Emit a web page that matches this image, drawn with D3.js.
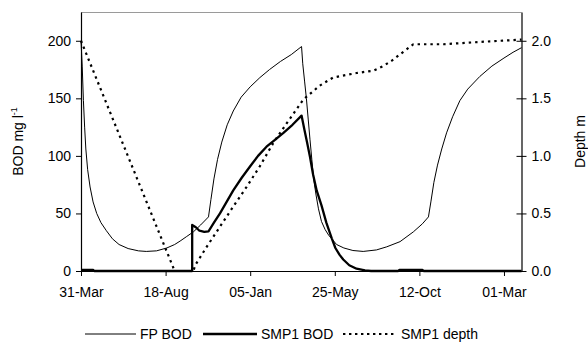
<!DOCTYPE html>
<html>
<head>
<meta charset="utf-8">
<script src="https://cdn.jsdelivr.net/npm/d3@7"></script>
<style>
  html, body { margin: 0; padding: 0; background: #fff; }
  svg { display: block; font-family: "Liberation Sans", Arial, sans-serif; }
</style>
</head>
<body>
<svg id="chart" width="588" height="345"></svg>
<script>
// Days counted from 31-Mar; one tick every 140 days
const tickDays = [0, 140, 280, 420, 560, 700];
const tickLabels = ["31-Mar", "18-Aug", "05-Jan", "25-May", "12-Oct", "01-Mar"];
const bodTicks = [0, 50, 100, 150, 200];
const depthTicks = [0, 0.5, 1.0, 1.5, 2.0];

// FP BOD, mg/l : [day, value]
const fpBod = [
  [0,200],[2,178],[4,148],[6,125],[8,106],[11,88],[15,73],[20,60],[26,50],[33,42],
  [42,35],[52,28],[63,23],[78,19.5],[95,17.5],[108,17],[125,17.5],[142,20],[155,23],
  [164,26],[175,30],[186,34],[198,40],[211,47],[215,62],[220,80],[226,97],[233,112],
  [242,127],[252,139],[265,151],[280,160],[296,168],[312,175],[330,182],[348,188],[365,195],
  [367,180],[370,165],[373,150],[376,132],[379,114],[382,97],[385,80],[389,66],[393,54],
  [398,43],[404,36],[410,31],[415,28],[423,23],[435,20],[450,17.8],[467,17],[489,18.3],
  [506,21],[528,25.5],[550,34],[565,41],[575,47],[579,60],[584,77],[590,92],[597,106],
  [605,120],[615,134],[627,148],[640,158],[660,169],[680,178],[700,185],[715,190],[729,194]
];

// SMP1 BOD, mg/l : [day, value]
const smp1Bod = [
  [0,1],[20,1],[22,0],[184,0],[184,40],[190,38],[196,35],[204,34],[211,34.5],[220,42],
  [230,50],[241,60],[252,70],[266,81],[280,91],[293,100],[307,108],[321,114],[335,120],
  [350,127],[365,135],[370,122],[374,112],[379,99],[384,84],[390,70],[398,57],[406,42],
  [415,28.4],[421,20],[428,14],[434,10],[444,5],[456,2],[470,0.5],[480,0],[525,0],
  [527,1],[565,1],[567,0],[729,0]
];

// SMP1 depth, m : [day, value]
const smp1Depth = [
  [0,2.0],[155,0],[186,0],[189,0.05],[208,0.21],[230,0.385],[252,0.56],[274,0.73],
  [296,0.91],[318,1.11],[340,1.28],[368,1.49],[395,1.61],[417,1.68],[456,1.72],
  [484,1.74],[500,1.78],[515,1.83],[530,1.89],[550,1.97],[600,1.97],[660,1.99],[729,2.01]
];

const svg = d3.select("#chart");
const mLeft = 81, mRight = 521.5, mTop = 12, mBottom = 271;
const FONT = 14;

const x = d3.scaleLinear().domain([0, 729]).range([mLeft, mRight]);
const yL = d3.scaleLinear().domain([0, 225]).range([mBottom, mTop]);
const yR = d3.scaleLinear().domain([0, 2.25]).range([mBottom, mTop]);

// top border of plot area
svg.append("line")
  .attr("x1", mLeft).attr("x2", mRight).attr("y1", mTop + 0.5).attr("y2", mTop + 0.5)
  .attr("stroke", "#9a9a9a").attr("stroke-width", 1);

const lineL = d3.line().x(d => x(d[0])).y(d => yL(d[1]));
const lineR = d3.line().x(d => x(d[0])).y(d => yR(d[1]));

const plot = svg.append("g");
plot.append("path").datum(smp1Depth).attr("d", lineR)
  .attr("fill", "none").attr("stroke", "#000").attr("stroke-width", 2.2)
  .attr("stroke-dasharray", "2.4,4");
plot.append("path").datum(fpBod).attr("d", lineL)
  .attr("fill", "none").attr("stroke", "#000").attr("stroke-width", 1);
plot.append("path").datum(smp1Bod).attr("d", lineL)
  .attr("fill", "none").attr("stroke", "#000").attr("stroke-width", 2.3)
  .attr("stroke-linejoin", "round");

// left axis
const gL = svg.append("g").attr("transform", `translate(${mLeft},0)`)
  .call(d3.axisLeft(yL).tickValues(bodTicks).tickFormat(d3.format("d"))
    .tickSizeInner(5).tickSizeOuter(0).tickPadding(5));
// right axis
const gR = svg.append("g").attr("transform", `translate(${mRight},0)`)
  .call(d3.axisRight(yR).tickValues(depthTicks).tickFormat(d3.format(".1f"))
    .tickSizeInner(5).tickSizeOuter(0).tickPadding(5));
gR.selectAll(".tick line").attr("x1", -5);
// bottom axis
const gB = svg.append("g").attr("transform", `translate(0,${mBottom})`)
  .call(d3.axisBottom(x).tickValues(tickDays).tickFormat((d, i) => tickLabels[i])
    .tickSizeInner(5).tickSizeOuter(0).tickPadding(11));

[gL, gR, gB].forEach(g => {
  g.select(".domain").attr("stroke", "#000").attr("stroke-width", 1.2);
  g.selectAll(".tick line").attr("stroke", "#000");
  g.selectAll("text").attr("fill", "#000").style("font-size", FONT + "px")
    .style("font-family", "'Liberation Sans', Arial, sans-serif");
});
gB.select(".domain").attr("d", `M${mLeft},0.5H${mRight}`);

// axis titles
const tL = svg.append("text")
  .attr("transform", `translate(23,${(mTop + mBottom) / 2}) rotate(-90)`)
  .attr("text-anchor", "middle").style("font-size", FONT + "px");
tL.append("tspan").text("BOD mg l");
tL.append("tspan").attr("dy", -6).style("font-size", "9px").text("-1");

svg.append("text")
  .attr("transform", `translate(585,${(mTop + mBottom) / 2}) rotate(-90)`)
  .attr("text-anchor", "middle").style("font-size", FONT + "px")
  .text("Depth m");

// legend
const legendItems = [
  { name: "FP BOD", x1: 85, x2: 136, w: 1, dash: null },
  { name: "SMP1 BOD", x1: 203, x2: 257, w: 2.3, dash: null },
  { name: "SMP1 depth", x1: 343, x2: 397, w: 2.2, dash: "2.4,3.6" }
];
const ly = 334;
const lg = svg.append("g");
legendItems.forEach(it => {
  lg.append("line").attr("x1", it.x1).attr("x2", it.x2).attr("y1", ly).attr("y2", ly)
    .attr("stroke", "#000").attr("stroke-width", it.w)
    .attr("stroke-dasharray", it.dash);
  lg.append("text").attr("x", it.x2 + 4).attr("y", ly).attr("dy", "0.35em")
    .style("font-size", FONT + "px").text(it.name);
});
</script>
</body>
</html>
